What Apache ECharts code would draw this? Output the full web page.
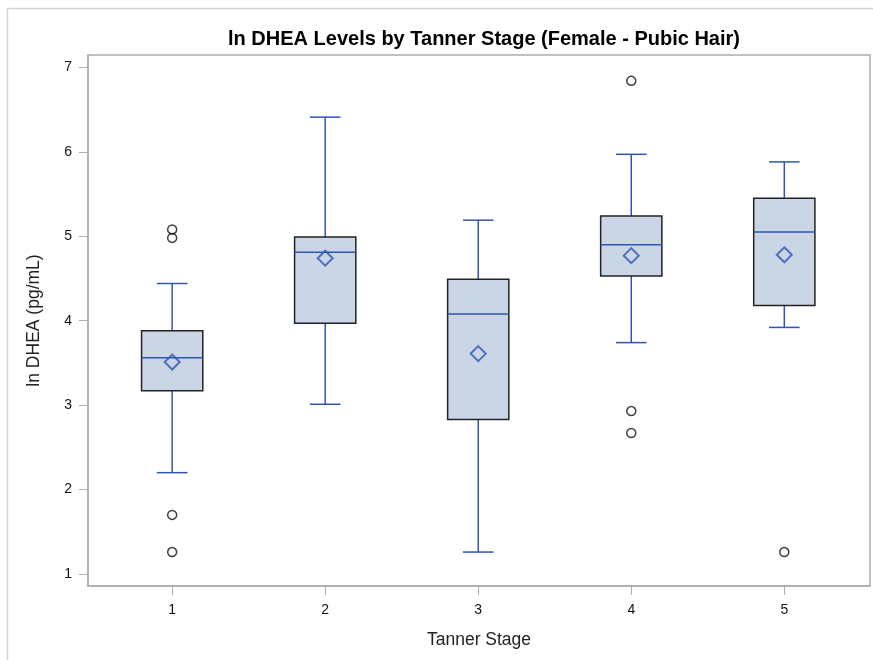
<!DOCTYPE html>
<html>
<head>
<meta charset="utf-8">
<script src="https://cdn.jsdelivr.net/npm/echarts@6/dist/echarts.min.js"></script>
<style>
html,body{margin:0;padding:0;background:#fff;}
#chart{width:873px;height:660px;}
</style>
</head>
<body>
<div id="chart"></div>
<script>
const stages = [1, 2, 3, 4, 5];
const whiskerLow  = [2.20, 3.01, 1.26, 3.74, 3.92];
const q1          = [3.17, 3.97, 2.83, 4.53, 4.18];
const medians     = [3.56, 4.81, 4.08, 4.90, 5.05];
const q3          = [3.88, 4.99, 4.49, 5.24, 5.45];
const whiskerHigh = [4.44, 6.41, 5.19, 5.97, 5.88];
const means       = [3.51, 4.74, 3.61, 4.77, 4.78];
const outlierStage = [1, 1, 1, 1, 4, 4, 4, 5];
const outlierValue = [5.08, 4.98, 1.70, 1.26, 6.84, 2.93, 2.67, 1.26];
const yTicks = [1, 2, 3, 4, 5, 6, 7];

const boxData = stages.map((s, i) => [s, whiskerLow[i], q1[i], medians[i], q3[i], whiskerHigh[i]]);
const meanData = stages.map((s, i) => [s, means[i]]);
const outlierData = outlierStage.map((s, i) => [s, outlierValue[i]]);

const blue = '#2f55b4';
const font = '"Liberation Sans", Arial, sans-serif';

function renderBox(params, api) {
  const x = api.value(0);
  const pLow = api.coord([x, api.value(1)]);
  const pQ1 = api.coord([x, api.value(2)]);
  const pMed = api.coord([x, api.value(3)]);
  const pQ3 = api.coord([x, api.value(4)]);
  const pHigh = api.coord([x, api.value(5)]);
  const boxW = api.size([0.4, 0])[0];
  const capW = api.size([0.2, 0])[0];
  const cx = pMed[0];
  const lineStyle = { stroke: blue, lineWidth: 1.5 };
  return {
    type: 'group',
    children: [
      { type: 'line', shape: { x1: cx, y1: pQ3[1], x2: cx, y2: pHigh[1] }, style: lineStyle },
      { type: 'line', shape: { x1: cx, y1: pQ1[1], x2: cx, y2: pLow[1] }, style: lineStyle },
      { type: 'line', shape: { x1: cx - capW / 2, y1: pHigh[1], x2: cx + capW / 2, y2: pHigh[1] }, style: lineStyle },
      { type: 'line', shape: { x1: cx - capW / 2, y1: pLow[1], x2: cx + capW / 2, y2: pLow[1] }, style: lineStyle },
      { type: 'rect', shape: { x: cx - boxW / 2, y: pQ3[1], width: boxW, height: pQ1[1] - pQ3[1] },
        style: { fill: '#cad5e5', stroke: '#222222', lineWidth: 1.5 } },
      { type: 'line', shape: { x1: cx - boxW / 2, y1: pMed[1], x2: cx + boxW / 2, y2: pMed[1] }, style: lineStyle }
    ]
  };
}

const chart = echarts.init(document.getElementById('chart'), null, { renderer: 'canvas' });
chart.setOption({
  animation: false,
  backgroundColor: '#ffffff',
  title: {
    text: 'ln DHEA Levels by Tanner Stage (Female - Pubic Hair)',
    left: 479, top: 24, textAlign: 'center',
    textStyle: { fontFamily: font, fontSize: 20, fontWeight: 'bold', color: '#000' }
  },
  graphic: [{
    type: 'rect', left: 5, top: 6, z: -10,
    shape: { x: 0, y: 0, width: 900, height: 700 },
    style: { fill: 'none', stroke: '#d4d4d4', lineWidth: 1.5 }
  }],
  grid: {
    left: 88, top: 55, right: 3, bottom: 74,
    show: true, borderColor: '#a9adb3', borderWidth: 1.5, backgroundColor: 'transparent'
  },
  xAxis: {
    type: 'value', min: 0.45, max: 5.56,
    name: 'Tanner Stage', nameLocation: 'middle', nameGap: 45,
    nameTextStyle: { fontFamily: font, fontSize: 17.5, color: '#222' },
    axisLine: { show: true, lineStyle: { color: '#a9adb3', width: 1.5 } },
    axisTick: { show: true, customValues: stages, length: 9, lineStyle: { color: '#a9adb3' } },
    axisLabel: { customValues: stages, margin: 17, fontFamily: font, fontSize: 14, color: '#111' },
    splitLine: { show: false }
  },
  yAxis: {
    type: 'value', min: 0.858, max: 7.146,
    name: 'ln DHEA (pg/mL)', nameLocation: 'middle', nameGap: 45,
    nameTextStyle: { fontFamily: font, fontSize: 17.5, color: '#222' },
    axisLine: { show: true, lineStyle: { color: '#a9adb3', width: 1.5 } },
    axisTick: { show: true, customValues: yTicks, length: 9, lineStyle: { color: '#a9adb3' } },
    axisLabel: { customValues: yTicks, margin: 16, fontFamily: font, fontSize: 14, color: '#111' },
    splitLine: { show: false }
  },
  series: [
    {
      type: 'custom', renderItem: renderBox, data: boxData,
      encode: { x: 0, y: [1, 2, 3, 4, 5] }, clip: true
    },
    {
      type: 'scatter', data: meanData, symbol: 'diamond', symbolSize: [15, 15], z: 5,
      itemStyle: { color: 'rgba(0,0,0,0)', borderColor: blue, borderWidth: 2 }
    },
    {
      type: 'scatter', data: outlierData, symbol: 'circle', symbolSize: 9, z: 5,
      itemStyle: { color: 'rgba(255,255,255,0)', borderColor: '#111', borderWidth: 1.5 }
    }
  ]
});
</script>
</body>
</html>
